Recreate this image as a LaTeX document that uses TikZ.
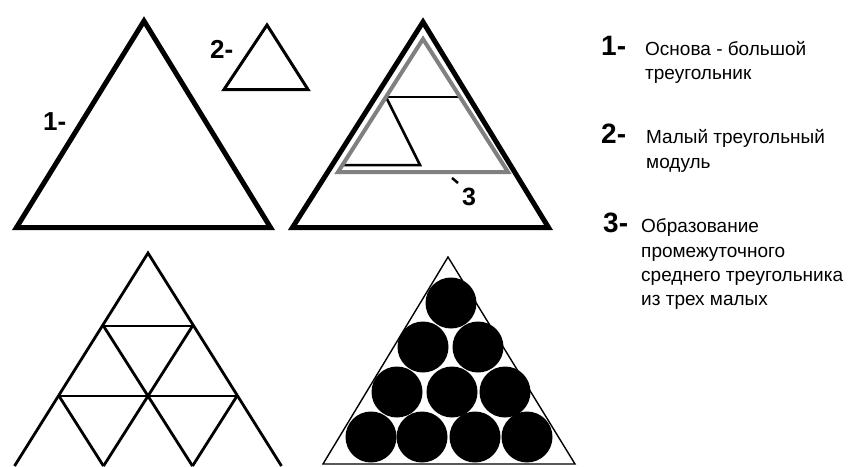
\documentclass[tikz,border=0pt]{standalone}
\usepackage{fontspec}
\setmainfont{Liberation Sans}
\begin{document}
\begin{tikzpicture}[x=1pt,y=-1pt,
  thicktri/.style={line width=5pt,line join=miter},
  midline/.style={line width=2.5pt},
  gridline/.style={line width=2.8pt,line join=miter},
  stipple/.style={line width=4pt,color=black!50,line join=miter},
  thinline/.style={line width=1.4pt,line join=miter},
  ball/.style={fill=black},
  numlbl/.style={font=\fontsize{26}{26}\selectfont\bfseries,inner sep=0pt,anchor=base west},
  biglbl/.style={font=\fontsize{28}{28}\selectfont\bfseries,inner sep=0pt,anchor=base west},
  desc/.style={font=\fontsize{19}{24}\selectfont,inner sep=0pt,anchor=base west}
]
\useasboundingbox (0,0) rectangle (858,466);

% Figure 1: big base triangle
\draw[thicktri] (144,21) -- (16.5,227.5) -- (270.5,227.5) -- cycle;
\node[numlbl] (l1) at (43,130) {1-};

% Figure 2: small module
\draw[line width=3pt,line join=miter] (267,25) -- (224,89.5) -- (308,89.5) -- cycle;
\node[numlbl] (l2) at (210,58) {2-};

% Figure 3: big triangle with intermediate triangle
\draw[thicktri] (423,22) -- (292.5,227.5) -- (548.5,227.5) -- cycle;
\draw[midline] (386,97) -- (460,97);
\draw[midline,line join=miter] (386,97) -- (420,165) -- (342.5,165);
\draw[stipple] (423,39) -- (338,172) -- (508,172) -- cycle;
\node[numlbl,font=\fontsize{25}{25}\selectfont\bfseries] (l3) at (462,205) {3};
\coordinate (t3) at (452,178);
\draw[line width=2.5pt] (t3) -- (458,183);

% Figure 4: triangular grid
\draw[gridline] (14.5,466) -- (148,253) -- (281.5,466);
\draw[gridline] (103.5,326) -- (192.5,326);
\draw[gridline] (59,396) -- (237,396);
\draw[gridline] (103.5,326) -- (192.5,466);
\draw[gridline] (192.5,326) -- (103.5,466);
\draw[gridline] (59,396) -- (103.5,466);
\draw[gridline] (237,396) -- (192.5,466);

% Figure 5: packed circles
\draw[thinline] (448,257) -- (323,464) -- (575,464) -- cycle;
\foreach \cx/\cy in {451/303, 423/347, 478/347, 397/392, 452/392, 505/392,
                     371/437, 422/437, 475/437, 527/437}
  \fill[ball] (\cx,\cy) circle (25.5);

% Legend
\node[biglbl] (k1) at (601,55) {1-};
\node[desc] (d1a) at (645,55) {Основа - большой};
\node[desc] (d1b) at (645,79) {треугольник};
\node[biglbl] (k2) at (601,143) {2-};
\node[desc] (d2a) at (646,143) {Малый треугольный};
\node[desc] (d2b) at (646,168) {модуль};
\node[biglbl] (k3) at (603,232) {3-};
\node[desc] (d3a) at (641,232) {Образование};
\node[desc] (d3b) at (641,257) {промежуточного};
\node[desc] (d3c) at (641,281) {среднего треугольника};
\node[desc] (d3d) at (641,305) {из трех малых};
\end{tikzpicture}
\end{document}
